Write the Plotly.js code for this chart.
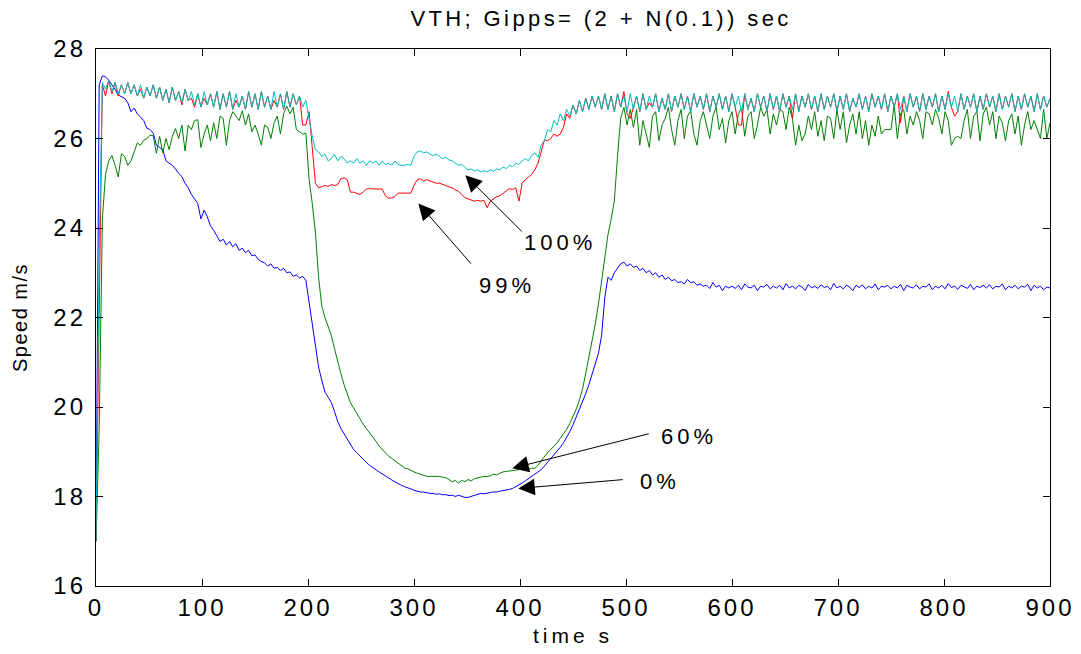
<!DOCTYPE html>
<html>
<head>
<meta charset="utf-8">
<script src="https://cdn.plot.ly/plotly-3.0.1.min.js"></script>
<style>
  html, body { margin: 0; padding: 0; background: #fff; }
  #chart { width: 1081px; height: 654px; }
  .xtick text, .ytick text { letter-spacing: 3px; }
  .annotation-text-g text { letter-spacing: 4px; }
  .gtitle { letter-spacing: 3.4px; }
  .xtitle { letter-spacing: 4px; }
  .ytitle { letter-spacing: 1.5px; }
</style>
</head>
<body>
<div id="chart"></div>
<script>
// Sampling of all series: one value every 3 s, starting at t = 0 s
const timeStart = 0;
const timeStep = 3;

// 0% (blue)
const speed0 = [
  17.0, 27.2, 27.4, 27.38, 27.3, 27.2, 27.1, 26.97, 26.93, 26.9,
  26.8, 26.6, 26.68, 26.55, 26.48, 26.4, 26.23, 26.2, 26.12, 25.85,
  25.8, 25.75, 25.5, 25.45, 25.4, 25.32, 25.22, 25.15, 25.0, 24.9,
  24.75, 24.65, 24.55, 24.2, 24.4, 24.25, 24.05, 23.95, 23.82, 23.7,
  23.75, 23.62, 23.7, 23.58, 23.65, 23.5, 23.55, 23.45, 23.5, 23.38,
  23.4, 23.3, 23.25, 23.22, 23.15, 23.2, 23.1, 23.12, 23.05, 23.1,
  23.0, 23.02, 22.92, 22.95, 22.88, 22.92, 22.83, 22.35, 21.85, 21.3,
  20.89, 20.6, 20.33, 20.22, 20.1, 19.9, 19.68, 19.52, 19.4, 19.3,
  19.15, 19.05, 18.98, 18.9, 18.82, 18.76, 18.7, 18.64, 18.6, 18.55,
  18.5, 18.45, 18.42, 18.37, 18.33, 18.28, 18.25, 18.22, 18.2, 18.17,
  18.14, 18.12, 18.1, 18.1, 18.08, 18.07, 18.07, 18.05, 18.06, 18.04,
  18.04, 18.02, 18.03, 18.0, 18.03, 18.01, 17.98, 17.98, 18.0, 18.02,
  18.05, 18.07, 18.06, 18.08, 18.09, 18.1, 18.1, 18.12, 18.13, 18.14,
  18.16, 18.18, 18.22, 18.25, 18.3, 18.35, 18.4, 18.45, 18.5, 18.55,
  18.6, 18.68, 18.76, 18.84, 18.92, 19.02, 19.1, 19.2, 19.32, 19.45,
  19.6, 19.77, 19.95, 20.12, 20.3, 20.5, 20.72, 20.95, 21.2, 21.6,
  22.45, 22.9, 22.83, 23.0, 23.1, 23.2, 23.24, 23.15, 23.2, 23.12,
  23.15, 23.05, 23.1, 23.0, 23.05, 22.95, 23.0, 22.9, 22.95, 22.85,
  22.9, 22.82, 22.85, 22.78, 22.8, 22.75, 22.85, 22.78, 22.8, 22.72,
  22.75, 22.7, 22.72, 22.65, 22.78, 22.68, 22.72, 22.6, 22.7, 22.66,
  22.7, 22.65, 22.72, 22.62, 22.75, 22.68, 22.66, 22.72, 22.6, 22.7,
  22.68, 22.74, 22.64, 22.7, 22.66, 22.72, 22.62, 22.76, 22.66, 22.7,
  22.64, 22.72, 22.68, 22.6, 22.74, 22.66, 22.7, 22.65, 22.73, 22.67,
  22.7, 22.62, 22.76, 22.66, 22.7, 22.64, 22.72, 22.68, 22.6, 22.72,
  22.67, 22.73, 22.64, 22.7, 22.66, 22.75, 22.62, 22.7, 22.68, 22.72,
  22.64, 22.7, 22.66, 22.74, 22.6, 22.72, 22.68, 22.66, 22.73, 22.64,
  22.7, 22.68, 22.75, 22.62, 22.7, 22.66, 22.72, 22.64, 22.76, 22.67,
  22.7, 22.63, 22.72, 22.68, 22.65, 22.74, 22.62, 22.7, 22.67, 22.72,
  22.66, 22.73, 22.64, 22.7, 22.68, 22.75, 22.62, 22.7, 22.66, 22.72,
  22.64, 22.7, 22.68, 22.74, 22.6, 22.72, 22.66, 22.7, 22.62, 22.68,
  22.66
];

// 60% (green)
const speed60 = [
  17.0, 19.5, 24.2, 25.2, 25.5, 25.62, 25.4, 25.14, 25.66, 25.6,
  25.4, 25.5, 25.7, 25.9, 25.85, 25.96, 26.0, 26.07, 26.06, 25.67,
  26.05, 25.68, 26.0, 25.75, 26.05, 26.22, 26.0, 26.3, 25.72, 26.3,
  26.2, 26.4, 26.42, 25.8, 26.1, 26.3, 25.95, 26.35, 26.0, 26.5,
  26.45, 25.85, 26.4, 26.6, 26.5, 26.4, 26.62, 26.3, 26.55, 26.15,
  26.3, 26.1, 25.85, 26.3, 26.25, 26.0, 26.35, 26.5, 26.1, 26.55,
  26.72, 26.55, 26.7, 26.2, 26.15, 26.1, 26.12, 25.1, 24.55, 23.9,
  22.9, 22.25, 22.0, 21.8, 21.6, 21.3, 21.0, 20.75, 20.5, 20.3,
  20.1, 19.98, 19.85, 19.72, 19.62, 19.52, 19.43, 19.33, 19.24, 19.13,
  19.05, 18.98, 18.9, 18.85, 18.8, 18.74, 18.68, 18.64, 18.62, 18.58,
  18.55, 18.52, 18.5, 18.47, 18.45, 18.45, 18.45, 18.45, 18.45, 18.43,
  18.42, 18.38, 18.33, 18.36, 18.3, 18.36, 18.33, 18.38, 18.35, 18.4,
  18.42, 18.43, 18.45, 18.45, 18.46, 18.5, 18.48, 18.52, 18.55, 18.56,
  18.57, 18.58, 18.6, 18.6, 18.62, 18.62, 18.63, 18.63, 18.63, 18.7,
  18.8, 18.9, 18.98, 19.05, 19.12, 19.2, 19.3, 19.4, 19.5, 19.63,
  19.78, 19.95, 20.15, 20.4, 20.75, 21.1, 21.45, 21.85, 22.3, 22.85,
  23.4, 23.85, 24.2, 24.6, 25.6, 26.45, 26.7, 26.3, 26.65, 26.25,
  26.65, 25.85, 26.4, 26.1, 25.8, 26.5, 26.6, 25.95, 26.3, 26.45,
  26.7, 26.2, 25.85, 26.4, 26.65, 26.0, 26.5, 26.62, 26.1, 25.85,
  26.4, 26.6, 26.3, 26.0, 26.5, 26.7, 26.2, 26.45, 25.9, 26.4,
  26.6, 26.1, 26.55, 26.68, 26.05, 26.5, 26.6, 26.0, 26.3, 26.7,
  26.5, 26.65, 26.1, 26.55, 26.3, 26.65, 26.6, 26.2, 26.7, 26.45,
  25.85, 26.3, 25.95, 26.1, 26.5, 26.2, 26.6, 26.05, 26.4, 25.95,
  26.5, 26.45, 26.0, 26.65, 26.2, 26.6, 25.9, 26.3, 26.55, 26.1,
  26.6, 26.0, 26.4, 25.85, 26.3, 26.05, 26.5, 26.1, 26.2, 26.2,
  26.2, 26.75, 26.0, 26.55, 26.65, 26.1, 26.5, 26.3, 26.6, 26.4,
  26.0, 26.6, 26.55, 26.3, 26.65, 26.45, 26.1, 26.6, 26.4, 25.85,
  26.0, 26.05, 26.0, 26.4, 26.65, 26.0, 26.5, 26.6, 25.95, 26.55,
  26.7, 26.3, 26.6, 26.0, 26.5, 26.35, 25.95, 26.4, 26.55, 26.1,
  26.5, 25.85, 26.3, 26.6, 26.2, 26.4, 26.2, 26.0, 26.65, 26.0,
  26.35
];

// 99% (red)
const speed99 = [
  17.0, 22.5, 27.2, 26.95, 27.3, 27.0, 27.25, 26.95, 27.2, 27.0,
  27.25, 27.0, 27.2, 26.95, 27.1, 26.9, 27.15, 26.95, 27.2, 26.9,
  27.15, 26.85, 27.1, 26.8, 27.15, 26.85, 27.05, 26.75, 27.1, 26.85,
  26.9, 26.7, 27.0, 26.7, 26.9, 26.75, 27.0, 26.7, 27.05, 26.65,
  27.0, 26.7, 27.05, 26.65, 26.85, 26.7, 26.95, 26.65, 27.05, 26.7,
  27.0, 26.65, 27.05, 26.7, 26.95, 26.65, 26.85, 26.7, 27.0, 26.65,
  27.05, 26.7, 27.0, 26.75, 26.95, 26.3, 26.3, 26.6, 25.8, 25.0,
  24.9, 24.93, 24.95, 24.93, 24.97, 24.95, 24.97, 25.1, 25.12, 25.08,
  24.8, 24.8, 24.78, 24.75, 24.8, 24.87, 24.88, 24.87, 24.87, 24.87,
  24.87, 24.72, 24.67, 24.67, 24.7, 24.78, 24.78, 24.78, 24.78, 24.78,
  24.95, 25.08, 25.1, 25.05, 25.08, 25.05, 25.03, 25.0, 25.0, 24.98,
  24.95, 24.92, 24.9, 24.85, 24.82, 24.75, 24.68, 24.65, 24.62, 24.6,
  24.62, 24.6, 24.62, 24.45, 24.6, 24.65, 24.7, 24.72, 24.78, 24.82,
  24.88, 24.86, 24.9, 24.6, 25.0, 25.08, 25.15, 25.2, 25.3, 25.45,
  25.7, 25.97, 25.95, 26.0, 26.1, 26.05, 26.1, 26.25, 26.55, 26.45,
  26.75, 26.55, 26.85, 26.6, 26.9, 26.65, 26.95, 26.7, 26.95, 26.65,
  27.0, 26.65, 26.95, 26.6, 27.0, 26.7, 27.05, 26.55, 26.45, 26.7,
  26.95, 26.6, 27.0, 26.65, 26.8, 26.7, 27.0, 26.6, 26.9, 26.65,
  27.0, 26.6, 26.95, 26.7, 27.0, 26.65, 26.95, 26.6, 27.0, 26.7,
  26.95, 26.65, 27.0, 26.6, 26.95, 26.7, 27.0, 26.65, 26.95, 26.6,
  27.0, 26.7, 26.3, 26.3, 27.0, 26.65, 26.9, 26.6, 27.0, 26.7,
  26.95, 26.6, 27.0, 26.65, 26.95, 26.6, 27.0, 26.7, 26.95, 26.45,
  27.0, 26.6, 26.95, 26.7, 27.0, 26.65, 26.95, 26.6, 27.0, 26.65,
  26.95, 26.7, 27.0, 26.6, 26.95, 26.65, 27.0, 26.6, 26.9, 26.7,
  27.0, 26.65, 26.95, 26.6, 27.0, 26.7, 26.95, 26.65, 27.0, 26.6,
  26.95, 26.7, 27.0, 26.35, 26.95, 26.6, 27.0, 26.7, 26.95, 26.6,
  27.0, 26.65, 26.95, 26.7, 27.0, 26.6, 26.95, 26.65, 27.05, 26.7,
  26.5, 26.6, 27.0, 26.65, 26.95, 26.7, 27.0, 26.6, 26.95, 26.65,
  27.0, 26.7, 26.95, 26.6, 27.0, 26.65, 26.95, 26.7, 27.0, 26.6,
  26.95, 26.65, 27.0, 26.7, 26.95, 26.6, 27.0, 26.65, 26.95, 26.7,
  26.9
];

// 100% (cyan)
const speed100 = [
  17.0, 23.5, 27.25, 27.1, 27.3, 27.05, 27.25, 27.0, 27.2, 27.0,
  27.25, 27.0, 27.2, 26.95, 27.2, 26.9, 27.15, 26.95, 27.2, 26.9,
  27.15, 26.85, 27.1, 26.8, 27.15, 26.85, 27.05, 26.8, 27.1, 26.85,
  27.05, 26.75, 27.0, 26.7, 27.05, 26.75, 27.0, 26.7, 27.05, 26.65,
  27.0, 26.7, 27.05, 26.65, 27.0, 26.7, 26.95, 26.65, 27.05, 26.7,
  27.0, 26.65, 27.05, 26.7, 26.95, 26.65, 27.05, 26.7, 27.0, 26.65,
  27.05, 26.7, 27.0, 26.75, 26.95, 26.7, 26.85, 26.45, 26.05, 25.75,
  25.7, 25.6, 25.65, 25.5, 25.55, 25.65, 25.5, 25.6, 25.55, 25.45,
  25.5, 25.45, 25.55, 25.45, 25.5, 25.4, 25.5, 25.45, 25.5, 25.4,
  25.5, 25.42, 25.45, 25.4, 25.5, 25.42, 25.4, 25.4, 25.42, 25.4,
  25.6, 25.7, 25.72, 25.68, 25.7, 25.65, 25.62, 25.65, 25.6, 25.55,
  25.58, 25.52, 25.5, 25.45, 25.4, 25.42, 25.35, 25.3, 25.32, 25.28,
  25.3, 25.25, 25.28, 25.25, 25.3, 25.27, 25.32, 25.3, 25.36, 25.33,
  25.4, 25.37, 25.45, 25.42, 25.5, 25.55, 25.5, 25.62, 25.68, 25.58,
  25.85, 25.95, 26.2, 26.15, 26.4, 26.3, 26.55, 26.4, 26.65, 26.5,
  26.75, 26.55, 26.85, 26.6, 26.9, 26.65, 26.95, 26.7, 26.95, 26.65,
  27.0, 26.65, 26.95, 26.6, 27.0, 26.7, 26.95, 26.6, 27.0, 26.65,
  26.95, 26.6, 27.0, 26.65, 26.95, 26.7, 27.0, 26.6, 26.9, 26.65,
  27.0, 26.6, 26.95, 26.7, 27.0, 26.65, 26.95, 26.6, 27.0, 26.7,
  26.95, 26.65, 27.0, 26.6, 26.95, 26.7, 27.0, 26.65, 26.95, 26.6,
  27.0, 26.7, 26.95, 26.6, 27.0, 26.65, 26.9, 26.6, 27.0, 26.7,
  26.95, 26.6, 27.0, 26.65, 26.95, 26.6, 27.0, 26.7, 26.95, 26.65,
  27.0, 26.6, 26.95, 26.7, 27.0, 26.65, 26.95, 26.6, 27.0, 26.65,
  26.95, 26.7, 27.0, 26.6, 26.95, 26.65, 27.0, 26.6, 26.9, 26.7,
  27.0, 26.65, 26.95, 26.6, 27.0, 26.7, 26.95, 26.65, 27.0, 26.6,
  26.95, 26.7, 27.0, 26.65, 26.95, 26.6, 27.0, 26.7, 26.95, 26.6,
  27.0, 26.65, 26.95, 26.7, 27.0, 26.6, 26.95, 26.65, 27.0, 26.7,
  26.95, 26.6, 27.0, 26.65, 26.95, 26.7, 27.0, 26.6, 26.95, 26.65,
  27.0, 26.7, 26.95, 26.6, 27.0, 26.65, 26.95, 26.7, 27.0, 26.6,
  26.95, 26.65, 27.0, 26.7, 26.95, 26.6, 27.0, 26.65, 26.95, 26.7,
  26.9
];

// Annotation labels and arrow geometry (data units)
const labelTexts = ['100%', '99%', '60%', '0%'];
const arrowHeadX = [348.4, 304.1, 392.7, 398.4];
const arrowHeadY = [25.18, 24.55, 18.63, 18.18];
const arrowTailX = [403.1, 355.0, 522.9, 498.4];
const arrowTailY = [23.89, 23.17, 19.41, 18.38];
const labelX = [438.0, 388.0, 559.7, 532.4];
const labelY = [23.68, 22.72, 19.35, 18.34];

const xTicks = [0, 100, 200, 300, 400, 500, 600, 700, 800, 900];
const yTicks = [16, 18, 20, 22, 24, 26, 28];

const FONT = '"Liberation Sans", Arial, Helvetica, sans-serif';

function line(y, color, name) {
  return {
    type: 'scatter', mode: 'lines', name: name,
    x0: timeStart, dx: timeStep, y: y,
    line: { color: color, width: 1 },
    hoverinfo: 'skip'
  };
}

const traces = [
  line(speed0, '#0000ff', '0%'),
  line(speed60, '#008000', '60%'),
  line(speed99, '#ff0000', '99%'),
  line(speed100, '#00bfbf', '100%')
];

const annotations = [];
for (let i = 0; i < labelTexts.length; i++) {
  annotations.push({
    x: arrowHeadX[i], y: arrowHeadY[i], xref: 'x', yref: 'y',
    ax: arrowTailX[i], ay: arrowTailY[i], axref: 'x', ayref: 'y',
    text: '', showarrow: true, arrowhead: 2, arrowsize: 3.3, arrowwidth: 1,
    arrowcolor: '#000000', standoff: 0, startstandoff: 0
  });
  annotations.push({
    x: labelX[i], y: labelY[i], xref: 'x', yref: 'y',
    text: labelTexts[i], showarrow: false,
    font: { family: FONT, size: 22, color: '#000' },
    xanchor: 'center', yanchor: 'middle'
  });
}

const axisCommon = {
  showgrid: false, zeroline: false, showline: true, linecolor: '#000', linewidth: 1.2,
  mirror: 'allticks', ticks: 'inside', ticklen: 7, tickcolor: '#000', tickwidth: 1,
  tickfont: { family: FONT, size: 24, color: '#000' }
};

const layout = {
  width: 1081, height: 654,
  margin: { l: 96, r: 31, t: 49, b: 68 },
  paper_bgcolor: '#fff', plot_bgcolor: '#fff',
  showlegend: false,
  title: {
    text: 'VTH; Gipps= (2 + N(0.1)) sec',
    font: { family: FONT, size: 22, color: '#000' },
    x: 0.556, xref: 'container', xanchor: 'center',
    y: 0.972, yref: 'container', yanchor: 'middle'
  },
  xaxis: Object.assign({}, axisCommon, {
    range: [0, 900], tickvals: xTicks, ticktext: xTicks.map(String),
    title: { text: 'time s', font: { family: FONT, size: 21, color: '#000' }, standoff: 8 }
  }),
  yaxis: Object.assign({}, axisCommon, {
    range: [16, 28], tickvals: yTicks, ticktext: yTicks.map(String),
    ticklabelstandoff: 4,
    title: { text: 'Speed m/s', font: { family: FONT, size: 20, color: '#000' }, standoff: 20 }
  }),
  annotations: annotations
};

Plotly.newPlot('chart', traces, layout, { staticPlot: true, displayModeBar: false });
</script>
</body>
</html>
